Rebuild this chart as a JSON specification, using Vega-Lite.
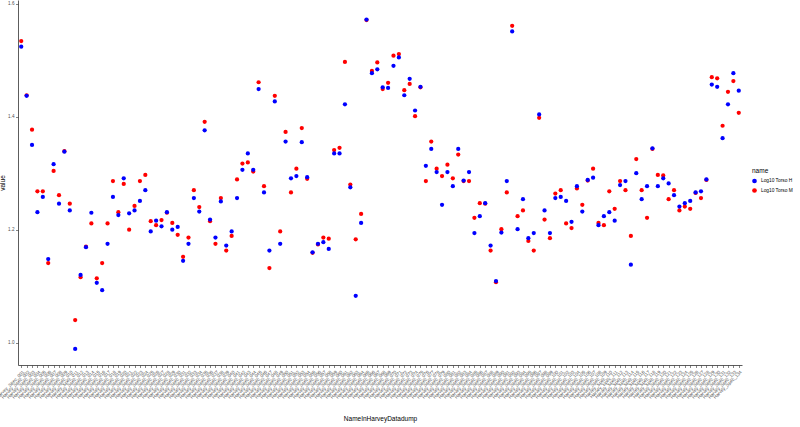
{
  "$schema": "https://vega.github.io/schema/vega-lite/v6.json",
  "autosize": {"type": "none"},
  "width": 724,
  "height": 365,
  "padding": {"left": 18, "top": 0, "right": 58, "bottom": 62},
  "background": "white",
  "config": {
    "view": {"stroke": null},
    "font": "Liberation Sans",
    "axis": {"grid": false, "domainColor": "#333333", "domainWidth": 0.8, "tickColor": "#333333", "tickWidth": 0.6, "tickSize": 2.5, "labelColor": "#4D4D4D", "labelFontSize": 4.6, "titleFontSize": 6.5, "titleFontWeight": "normal", "titleColor": "#000000", "labelPadding": 1.5}
  },
  "data": {"values": [
{"NameInHarveyDatadump":"Harvey_Spec_001","Log10 Torso H":1.524,"Log10 Torso M":1.534},
{"NameInHarveyDatadump":"Harvey_Spec_002","Log10 Torso H":1.437,"Log10 Torso M":1.438},
{"NameInHarveyDatadump":"Harvey_Spec_003","Log10 Torso H":1.350,"Log10 Torso M":1.377},
{"NameInHarveyDatadump":"Harvey_Spec_004","Log10 Torso H":1.231,"Log10 Torso M":1.268},
{"NameInHarveyDatadump":"Harvey_Spec_005","Log10 Torso H":1.258,"Log10 Torso M":1.268},
{"NameInHarveyDatadump":"Harvey_Spec_006","Log10 Torso H":1.148,"Log10 Torso M":1.141},
{"NameInHarveyDatadump":"Harvey_Spec_007","Log10 Torso H":1.316,"Log10 Torso M":1.304},
{"NameInHarveyDatadump":"Harvey_Spec_008","Log10 Torso H":1.246,"Log10 Torso M":1.261},
{"NameInHarveyDatadump":"Harvey_Spec_009","Log10 Torso H":1.338,"Log10 Torso M":1.339},
{"NameInHarveyDatadump":"Harvey_Spec_010","Log10 Torso H":1.234,"Log10 Torso M":1.246},
{"NameInHarveyDatadump":"Harvey_Spec_011","Log10 Torso H":0.989,"Log10 Torso M":1.040},
{"NameInHarveyDatadump":"Harvey_Spec_012","Log10 Torso H":1.120,"Log10 Torso M":1.116},
{"NameInHarveyDatadump":"Harvey_Spec_013","Log10 Torso H":1.169,"Log10 Torso M":1.170},
{"NameInHarveyDatadump":"Harvey_Spec_014","Log10 Torso H":1.230,"Log10 Torso M":1.211},
{"NameInHarveyDatadump":"Harvey_Spec_015","Log10 Torso H":1.106,"Log10 Torso M":1.114},
{"NameInHarveyDatadump":"Harvey_Spec_016","Log10 Torso H":1.093,"Log10 Torso M":1.141},
{"NameInHarveyDatadump":"Harvey_Spec_017","Log10 Torso H":1.175,"Log10 Torso M":1.211},
{"NameInHarveyDatadump":"Harvey_Spec_018","Log10 Torso H":1.258,"Log10 Torso M":1.286},
{"NameInHarveyDatadump":"Harvey_Spec_019","Log10 Torso H":1.226,"Log10 Torso M":1.231},
{"NameInHarveyDatadump":"Harvey_Spec_020","Log10 Torso H":1.291,"Log10 Torso M":1.281},
{"NameInHarveyDatadump":"Harvey_Spec_021","Log10 Torso H":1.229,"Log10 Torso M":1.200},
{"NameInHarveyDatadump":"Harvey_Spec_022","Log10 Torso H":1.234,"Log10 Torso M":1.242},
{"NameInHarveyDatadump":"Harvey_Spec_023","Log10 Torso H":1.251,"Log10 Torso M":1.286},
{"NameInHarveyDatadump":"Harvey_Spec_024","Log10 Torso H":1.270,"Log10 Torso M":1.297},
{"NameInHarveyDatadump":"Harvey_Spec_025","Log10 Torso H":1.197,"Log10 Torso M":1.215},
{"NameInHarveyDatadump":"Harvey_Spec_026","Log10 Torso H":1.216,"Log10 Torso M":1.208},
{"NameInHarveyDatadump":"Harvey_Spec_027","Log10 Torso H":1.206,"Log10 Torso M":1.217},
{"NameInHarveyDatadump":"Harvey_Spec_028","Log10 Torso H":1.231,"Log10 Torso M":1.230},
{"NameInHarveyDatadump":"Harvey_Spec_029","Log10 Torso H":1.200,"Log10 Torso M":1.212},
{"NameInHarveyDatadump":"Harvey_Spec_030","Log10 Torso H":1.205,"Log10 Torso M":1.191},
{"NameInHarveyDatadump":"Harvey_Spec_031","Log10 Torso H":1.145,"Log10 Torso M":1.152},
{"NameInHarveyDatadump":"Harvey_Spec_032","Log10 Torso H":1.175,"Log10 Torso M":1.186},
{"NameInHarveyDatadump":"Harvey_Spec_033","Log10 Torso H":1.256,"Log10 Torso M":1.270},
{"NameInHarveyDatadump":"Harvey_Spec_034","Log10 Torso H":1.232,"Log10 Torso M":1.240},
{"NameInHarveyDatadump":"Harvey_Spec_035","Log10 Torso H":1.376,"Log10 Torso M":1.391},
{"NameInHarveyDatadump":"Harvey_Spec_036","Log10 Torso H":1.218,"Log10 Torso M":1.215},
{"NameInHarveyDatadump":"Harvey_Spec_037","Log10 Torso H":1.186,"Log10 Torso M":1.175},
{"NameInHarveyDatadump":"Harvey_Spec_038","Log10 Torso H":1.250,"Log10 Torso M":1.256},
{"NameInHarveyDatadump":"Harvey_Spec_039","Log10 Torso H":1.172,"Log10 Torso M":1.163},
{"NameInHarveyDatadump":"Harvey_Spec_040","Log10 Torso H":1.197,"Log10 Torso M":1.189},
{"NameInHarveyDatadump":"Harvey_Spec_041","Log10 Torso H":1.256,"Log10 Torso M":1.289},
{"NameInHarveyDatadump":"Harvey_Spec_042","Log10 Torso H":1.306,"Log10 Torso M":1.317},
{"NameInHarveyDatadump":"Harvey_Spec_043","Log10 Torso H":1.335,"Log10 Torso M":1.319},
{"NameInHarveyDatadump":"Harvey_Spec_044","Log10 Torso H":1.306,"Log10 Torso M":1.303},
{"NameInHarveyDatadump":"Harvey_Spec_045","Log10 Torso H":1.449,"Log10 Torso M":1.461},
{"NameInHarveyDatadump":"Harvey_Spec_046","Log10 Torso H":1.266,"Log10 Torso M":1.277},
{"NameInHarveyDatadump":"Harvey_Spec_047","Log10 Torso H":1.163,"Log10 Torso M":1.132},
{"NameInHarveyDatadump":"Harvey_Spec_048","Log10 Torso H":1.427,"Log10 Torso M":1.437},
{"NameInHarveyDatadump":"Harvey_Spec_049","Log10 Torso H":1.175,"Log10 Torso M":1.197},
{"NameInHarveyDatadump":"Harvey_Spec_050","Log10 Torso H":1.356,"Log10 Torso M":1.373},
{"NameInHarveyDatadump":"Harvey_Spec_051","Log10 Torso H":1.291,"Log10 Torso M":1.266},
{"NameInHarveyDatadump":"Harvey_Spec_052","Log10 Torso H":1.295,"Log10 Torso M":1.308},
{"NameInHarveyDatadump":"Harvey_Spec_053","Log10 Torso H":1.355,"Log10 Torso M":1.380},
{"NameInHarveyDatadump":"Harvey_Spec_054","Log10 Torso H":1.293,"Log10 Torso M":1.290},
{"NameInHarveyDatadump":"Harvey_Spec_055","Log10 Torso H":1.160,"Log10 Torso M":1.159},
{"NameInHarveyDatadump":"Harvey_Spec_056","Log10 Torso H":1.175,"Log10 Torso M":1.174},
{"NameInHarveyDatadump":"Harvey_Spec_057","Log10 Torso H":1.178,"Log10 Torso M":1.186},
{"NameInHarveyDatadump":"Harvey_Spec_058","Log10 Torso H":1.166,"Log10 Torso M":1.184},
{"NameInHarveyDatadump":"Harvey_Spec_059","Log10 Torso H":1.335,"Log10 Torso M":1.341},
{"NameInHarveyDatadump":"Harvey_Spec_060","Log10 Torso H":1.335,"Log10 Torso M":1.345},
{"NameInHarveyDatadump":"Harvey_Spec_061","Log10 Torso H":1.422,"Log10 Torso M":1.497},
{"NameInHarveyDatadump":"Harvey_Spec_062","Log10 Torso H":1.275,"Log10 Torso M":1.280},
{"NameInHarveyDatadump":"Harvey_Spec_063","Log10 Torso H":1.083,"Log10 Torso M":1.183},
{"NameInHarveyDatadump":"Harvey_Spec_064","Log10 Torso H":1.212,"Log10 Torso M":1.228},
{"NameInHarveyDatadump":"Harvey_Spec_065","Log10 Torso H":1.572,"Log10 Torso M":1.571},
{"NameInHarveyDatadump":"Harvey_Spec_066","Log10 Torso H":1.477,"Log10 Torso M":1.481},
{"NameInHarveyDatadump":"Harvey_Spec_067","Log10 Torso H":1.484,"Log10 Torso M":1.496},
{"NameInHarveyDatadump":"Harvey_Spec_068","Log10 Torso H":1.452,"Log10 Torso M":1.449},
{"NameInHarveyDatadump":"Harvey_Spec_069","Log10 Torso H":1.451,"Log10 Torso M":1.460},
{"NameInHarveyDatadump":"Harvey_Spec_070","Log10 Torso H":1.490,"Log10 Torso M":1.508},
{"NameInHarveyDatadump":"Harvey_Spec_071","Log10 Torso H":1.505,"Log10 Torso M":1.511},
{"NameInHarveyDatadump":"Harvey_Spec_072","Log10 Torso H":1.438,"Log10 Torso M":1.447},
{"NameInHarveyDatadump":"Harvey_Spec_073","Log10 Torso H":1.467,"Log10 Torso M":1.458},
{"NameInHarveyDatadump":"Harvey_Spec_074","Log10 Torso H":1.411,"Log10 Torso M":1.401},
{"NameInHarveyDatadump":"Harvey_Spec_075","Log10 Torso H":1.453,"Log10 Torso M":1.452},
{"NameInHarveyDatadump":"Harvey_Spec_076","Log10 Torso H":1.313,"Log10 Torso M":1.286},
{"NameInHarveyDatadump":"Harvey_Spec_077","Log10 Torso H":1.343,"Log10 Torso M":1.356},
{"NameInHarveyDatadump":"Harvey_Spec_078","Log10 Torso H":1.302,"Log10 Torso M":1.308},
{"NameInHarveyDatadump":"Harvey_Spec_079","Log10 Torso H":1.244,"Log10 Torso M":1.295},
{"NameInHarveyDatadump":"Harvey_Spec_080","Log10 Torso H":1.302,"Log10 Torso M":1.315},
{"NameInHarveyDatadump":"Harvey_Spec_081","Log10 Torso H":1.277,"Log10 Torso M":1.291},
{"NameInHarveyDatadump":"Harvey_Spec_082","Log10 Torso H":1.343,"Log10 Torso M":1.333},
{"NameInHarveyDatadump":"Harvey_Spec_083","Log10 Torso H":1.287,"Log10 Torso M":1.286},
{"NameInHarveyDatadump":"Harvey_Spec_084","Log10 Torso H":1.302,"Log10 Torso M":1.286},
{"NameInHarveyDatadump":"Harvey_Spec_085","Log10 Torso H":1.194,"Log10 Torso M":1.221},
{"NameInHarveyDatadump":"Harvey_Spec_086","Log10 Torso H":1.224,"Log10 Torso M":1.247},
{"NameInHarveyDatadump":"Harvey_Spec_087","Log10 Torso H":1.247,"Log10 Torso M":1.246},
{"NameInHarveyDatadump":"Harvey_Spec_088","Log10 Torso H":1.172,"Log10 Torso M":1.163},
{"NameInHarveyDatadump":"Harvey_Spec_089","Log10 Torso H":1.109,"Log10 Torso M":1.107},
{"NameInHarveyDatadump":"Harvey_Spec_090","Log10 Torso H":1.195,"Log10 Torso M":1.201},
{"NameInHarveyDatadump":"Harvey_Spec_091","Log10 Torso H":1.286,"Log10 Torso M":1.266},
{"NameInHarveyDatadump":"Harvey_Spec_092","Log10 Torso H":1.551,"Log10 Torso M":1.561},
{"NameInHarveyDatadump":"Harvey_Spec_093","Log10 Torso H":1.201,"Log10 Torso M":1.224},
{"NameInHarveyDatadump":"Harvey_Spec_094","Log10 Torso H":1.254,"Log10 Torso M":1.234},
{"NameInHarveyDatadump":"Harvey_Spec_095","Log10 Torso H":1.185,"Log10 Torso M":1.180},
{"NameInHarveyDatadump":"Harvey_Spec_096","Log10 Torso H":1.194,"Log10 Torso M":1.163},
{"NameInHarveyDatadump":"Harvey_Spec_097","Log10 Torso H":1.404,"Log10 Torso M":1.398},
{"NameInHarveyDatadump":"Harvey_Spec_098","Log10 Torso H":1.234,"Log10 Torso M":1.218},
{"NameInHarveyDatadump":"Harvey_Spec_099","Log10 Torso H":1.194,"Log10 Torso M":1.185},
{"NameInHarveyDatadump":"Harvey_Spec_100","Log10 Torso H":1.256,"Log10 Torso M":1.264},
{"NameInHarveyDatadump":"Harvey_Spec_101","Log10 Torso H":1.258,"Log10 Torso M":1.270},
{"NameInHarveyDatadump":"Harvey_Spec_102","Log10 Torso H":1.251,"Log10 Torso M":1.211},
{"NameInHarveyDatadump":"Harvey_Spec_103","Log10 Torso H":1.214,"Log10 Torso M":1.203},
{"NameInHarveyDatadump":"Harvey_Spec_104","Log10 Torso H":1.277,"Log10 Torso M":1.273},
{"NameInHarveyDatadump":"Harvey_Spec_105","Log10 Torso H":1.232,"Log10 Torso M":1.244},
{"NameInHarveyDatadump":"Harvey_Spec_106","Log10 Torso H":1.288,"Log10 Torso M":1.287},
{"NameInHarveyDatadump":"Harvey_Spec_107","Log10 Torso H":1.292,"Log10 Torso M":1.308},
{"NameInHarveyDatadump":"Harvey_Spec_108","Log10 Torso H":1.208,"Log10 Torso M":1.212},
{"NameInHarveyDatadump":"Harvey_Spec_109","Log10 Torso H":1.224,"Log10 Torso M":1.208},
{"NameInHarveyDatadump":"Harvey_Spec_110","Log10 Torso H":1.231,"Log10 Torso M":1.268},
{"NameInHarveyDatadump":"Harvey_Spec_111","Log10 Torso H":1.216,"Log10 Torso M":1.237},
{"NameInHarveyDatadump":"Harvey_Spec_112","Log10 Torso H":1.279,"Log10 Torso M":1.286},
{"NameInHarveyDatadump":"Harvey_Spec_113","Log10 Torso H":1.286,"Log10 Torso M":1.270},
{"NameInHarveyDatadump":"Harvey_Spec_114","Log10 Torso H":1.138,"Log10 Torso M":1.189},
{"NameInHarveyDatadump":"Harvey_Spec_115","Log10 Torso H":1.300,"Log10 Torso M":1.325},
{"NameInHarveyDatadump":"Harvey_Spec_116","Log10 Torso H":1.254,"Log10 Torso M":1.270},
{"NameInHarveyDatadump":"Harvey_Spec_117","Log10 Torso H":1.277,"Log10 Torso M":1.221},
{"NameInHarveyDatadump":"Harvey_Spec_118","Log10 Torso H":1.344,"Log10 Torso M":1.343},
{"NameInHarveyDatadump":"Harvey_Spec_119","Log10 Torso H":1.277,"Log10 Torso M":1.297},
{"NameInHarveyDatadump":"Harvey_Spec_120","Log10 Torso H":1.291,"Log10 Torso M":1.296},
{"NameInHarveyDatadump":"Harvey_Spec_121","Log10 Torso H":1.282,"Log10 Torso M":1.254},
{"NameInHarveyDatadump":"Harvey_Spec_122","Log10 Torso H":1.261,"Log10 Torso M":1.270},
{"NameInHarveyDatadump":"Harvey_Spec_123","Log10 Torso H":1.241,"Log10 Torso M":1.234},
{"NameInHarveyDatadump":"Harvey_Spec_124","Log10 Torso H":1.247,"Log10 Torso M":1.241},
{"NameInHarveyDatadump":"Harvey_Spec_125","Log10 Torso H":1.251,"Log10 Torso M":1.237},
{"NameInHarveyDatadump":"Harvey_Spec_126","Log10 Torso H":1.266,"Log10 Torso M":1.265},
{"NameInHarveyDatadump":"Harvey_Spec_127","Log10 Torso H":1.268,"Log10 Torso M":1.256},
{"NameInHarveyDatadump":"Harvey_Spec_128","Log10 Torso H":1.289,"Log10 Torso M":1.288},
{"NameInHarveyDatadump":"Harvey_Spec_129","Log10 Torso H":1.457,"Log10 Torso M":1.470},
{"NameInHarveyDatadump":"Harvey_Spec_130","Log10 Torso H":1.453,"Log10 Torso M":1.468},
{"NameInHarveyDatadump":"Harvey_Spec_131","Log10 Torso H":1.362,"Log10 Torso M":1.384},
{"NameInHarveyDatadump":"Harvey_Spec_132","Log10 Torso H":1.422,"Log10 Torso M":1.444},
{"NameInHarveyDatadump":"Harvey_Spec_133","Log10 Torso H":1.477,"Log10 Torso M":1.463},
{"NameInHarveyDatadump":"Harvey_Spec_134","Log10 Torso H":1.446,"Log10 Torso M":1.407}
  ]},
  "transform": [{"fold": ["Log10 Torso M", "Log10 Torso H"], "as": ["name", "value"]}],
  "mark": {"type": "circle", "size": 18, "opacity": 1},
  "encoding": {
    "x": {
      "field": "NameInHarveyDatadump", "type": "nominal", "sort": null,
      "scale": {"type": "point", "padding": 0.6},
      "axis": {"labelAngle": -45, "labelAlign": "right", "labelBaseline": "top", "labelOverlap": false, "titleY": 55, "titleBaseline": "alphabetic", "title": "NameInHarveyDatadump"}
    },
    "y": {
      "field": "value", "type": "quantitative",
      "scale": {"domain": [0.9605, 1.6066], "nice": false, "zero": false},
      "axis": {"values": [1.0, 1.2, 1.4, 1.6], "format": ".1f", "title": "value", "titlePadding": 2}
    },
    "color": {
      "field": "name", "type": "nominal",
      "scale": {"domain": ["Log10 Torso H", "Log10 Torso M"], "range": ["#0000FF", "#FF0000"]},
      "legend": {"orient": "none", "legendX": 734, "legendY": 168, "title": "name", "titleFontSize": 6.5, "titleFontWeight": "normal", "titleColor": "#000000", "labelFontSize": 4.8, "labelColor": "#000000", "symbolType": "circle", "symbolSize": 22, "symbolStrokeWidth": 0, "rowPadding": 3.5, "labelOffset": 4, "titlePadding": 4}
    }
  }
}
